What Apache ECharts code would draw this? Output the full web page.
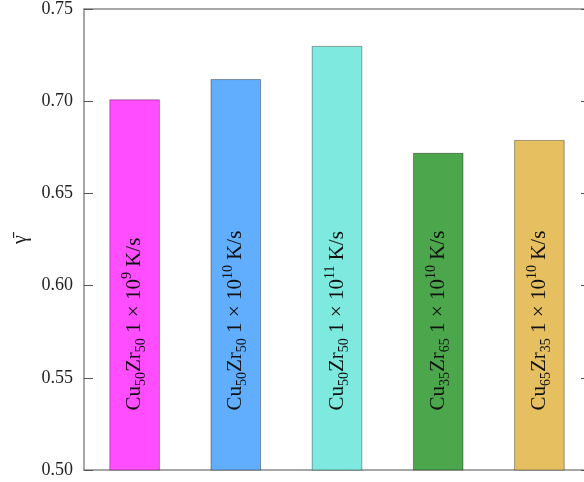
<!DOCTYPE html>
<html>
<head>
<meta charset="utf-8">
<script src="https://cdn.jsdelivr.net/npm/echarts@6/dist/echarts.min.js"></script>
<style>html,body{margin:0;padding:0;background:#fff;overflow:hidden}#c{width:590px;height:482px}</style>
</head>
<body>
<div id="c"></div>
<script>
const categories = ['Cu50Zr50 1e9 K/s', 'Cu50Zr50 1e10 K/s', 'Cu50Zr50 1e11 K/s', 'Cu35Zr65 1e10 K/s', 'Cu65Zr35 1e10 K/s'];
const cuIndex = ['50', '50', '50', '35', '65'];
const zrIndex = ['50', '50', '50', '65', '35'];
const rateExponent = ['9', '10', '11', '10', '10'];
const gammaBar = [0.701, 0.712, 0.730, 0.672, 0.679];
const yTicks = [0.50, 0.55, 0.60, 0.65, 0.70, 0.75];

const barColors = ['#ff4dff', '#62aefe', '#7de9df', '#4ca64c', '#e6bf60'];
const serif = '"Liberation Serif", "Times New Roman", serif';
const axisGray = '#8a8a8a';

const chart = echarts.init(document.getElementById('c'), null, {renderer: 'canvas'});

const labelText = categories.map((c, i) =>
  '{m|Cu}{s|' + cuIndex[i] + '}{m|Zr}{s|' + zrIndex[i] + '}{m| 1 × 10}{p|' + rateExponent[i] + '}{m| K/s}'
);

chart.setOption({
  animation: false,
  grid: {left: 84, top: 6, right: 0, bottom: 12},
  xAxis: [
    {
      type: 'category', data: categories, position: 'bottom',
      axisLine: {lineStyle: {color: axisGray, width: 1.5}},
      axisTick: {inside: true, alignWithLabel: true, length: 9, lineStyle: {color: '#555', width: 1}},
      axisLabel: {show: false}
    },
    {
      type: 'category', data: categories, position: 'top',
      axisLine: {lineStyle: {color: axisGray, width: 1.5}},
      axisTick: {inside: true, alignWithLabel: true, length: 9, lineStyle: {color: '#555', width: 1}},
      axisLabel: {show: false}
    }
  ],
  yAxis: [
    {
      type: 'value', min: yTicks[0], max: yTicks[yTicks.length - 1], interval: 0.05,
      name: 'γ\u0304', nameLocation: 'middle', nameGap: 38, nameRotate: 90,
      nameTextStyle: {fontFamily: serif, fontSize: 20, color: '#222'},
      axisLine: {show: true, lineStyle: {color: axisGray, width: 1.5}},
      axisTick: {show: true, inside: true, length: 9, lineStyle: {color: '#555', width: 1}},
      axisLabel: {fontFamily: serif, fontSize: 18, color: '#222', margin: 11, formatter: v => v.toFixed(2)},
      splitLine: {show: false}
    },
    {
      type: 'value', min: yTicks[0], max: yTicks[yTicks.length - 1], interval: 0.05, position: 'right',
      axisLine: {show: true, lineStyle: {color: axisGray, width: 1.5}},
      axisTick: {show: true, inside: true, length: 9, lineStyle: {color: '#555', width: 1}},
      axisLabel: {show: false},
      splitLine: {show: false}
    }
  ],
  series: [{
    type: 'bar',
    data: gammaBar.map((v, i) => ({
      value: v,
      itemStyle: {color: barColors[i], borderColor: 'rgba(0,0,0,0.35)', borderWidth: 1}
    })),
    barWidth: '50%',
    label: {
      show: true,
      position: 'insideBottom',
      distance: 60,
      rotate: 90,
      align: 'left',
      verticalAlign: 'middle',
      formatter: p => labelText[p.dataIndex],
      rich: {
        m: {fontFamily: serif, fontSize: 21, color: '#111', lineHeight: 28, verticalAlign: 'middle'},
        s: {fontFamily: serif, fontSize: 14, color: '#111', lineHeight: 18, verticalAlign: 'bottom'},
        p: {fontFamily: serif, fontSize: 14, color: '#111', lineHeight: 18, verticalAlign: 'top'}
      }
    }
  }]
});
</script>
</body>
</html>
